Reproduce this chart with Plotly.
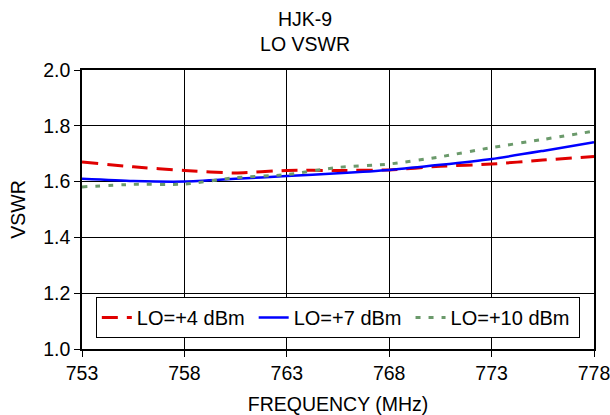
import plotly.graph_objects as go

freq = [753, 755.5, 758, 760.5, 763, 765.5, 768, 770.5, 773, 775.5, 778]
vswr_lo4 = [1.67, 1.653, 1.640, 1.631, 1.640, 1.640, 1.642, 1.655, 1.663, 1.677, 1.69]
vswr_lo7 = [1.61, 1.602, 1.600, 1.610, 1.620, 1.630, 1.642, 1.660, 1.681, 1.710, 1.741]
vswr_lo10 = [1.581, 1.590, 1.591, 1.614, 1.625, 1.651, 1.663, 1.689, 1.722, 1.751, 1.781]
x_ticks = [753, 758, 763, 768, 773, 778]
y_ticks = [1.0, 1.2, 1.4, 1.6, 1.8, 2.0]
series_names = ["LO=+4 dBm", "LO=+7 dBm", "LO=+10 dBm"]

FONT = "Arial"
FS = 19.5
PAD = "\u2009"

fig = go.Figure()
fig.add_trace(go.Scatter(x=freq, y=vswr_lo4, mode="lines", name=series_names[0] + PAD,
                         line=dict(color="#e00000", width=3, dash="16px,9px", shape="spline", smoothing=0.6)))
fig.add_trace(go.Scatter(x=freq, y=vswr_lo7, mode="lines", name=series_names[1] + PAD,
                         line=dict(color="#0000ff", width=2.5, shape="spline", smoothing=0.6)))
fig.add_trace(go.Scatter(x=freq, y=vswr_lo10, mode="lines", name=series_names[2] + PAD,
                         line=dict(color="#6b9a6b", width=3, dash="5px,8px", shape="spline", smoothing=0.6)))

fig.update_layout(
    width=610, height=415,
    margin=dict(l=82, r=16, t=70, b=66),
    paper_bgcolor="white", plot_bgcolor="white",
    font=dict(family=FONT, size=FS, color="black"),
    title=dict(text="HJK-9<br>LO VSWR", x=0.5, xanchor="center", y=0.937, yanchor="top",
               font=dict(family=FONT, size=FS, color="black")),
    showlegend=True,
    legend=dict(orientation="h", x=0.027, xanchor="left", y=0.186, yanchor="top",
                bgcolor="white", bordercolor="black", borderwidth=1,
                font=dict(family=FONT, size=20, color="black")),
    xaxis=dict(range=[753, 778], tickvals=x_ticks, ticktext=[str(v) for v in x_ticks],
               showgrid=True, gridcolor="black", gridwidth=1,
               showline=True, linecolor="black", linewidth=1.5, mirror=True,
               ticks="outside", ticklen=6, tickcolor="black", ticklabeloverflow="allow",
               automargin=False,
               title=dict(text="FREQUENCY (MHz)", font=dict(family=FONT, size=FS, color="black")),
               zeroline=False),
    yaxis=dict(range=[1.0, 2.0], tickvals=y_ticks, ticktext=[f"{v:.1f}" for v in y_ticks],
               showgrid=True, gridcolor="black", gridwidth=1,
               showline=True, linecolor="black", linewidth=1.5, mirror=True,
               ticks="outside", ticklen=6, tickcolor="black",
               title=dict(text="VSWR", standoff=12, font=dict(family=FONT, size=FS, color="black")),
               zeroline=False),
)

fig.write_html("out.html", config={"displayModeBar": False},
               post_script="document.body.style.margin='0';document.body.style.overflow='hidden';")
